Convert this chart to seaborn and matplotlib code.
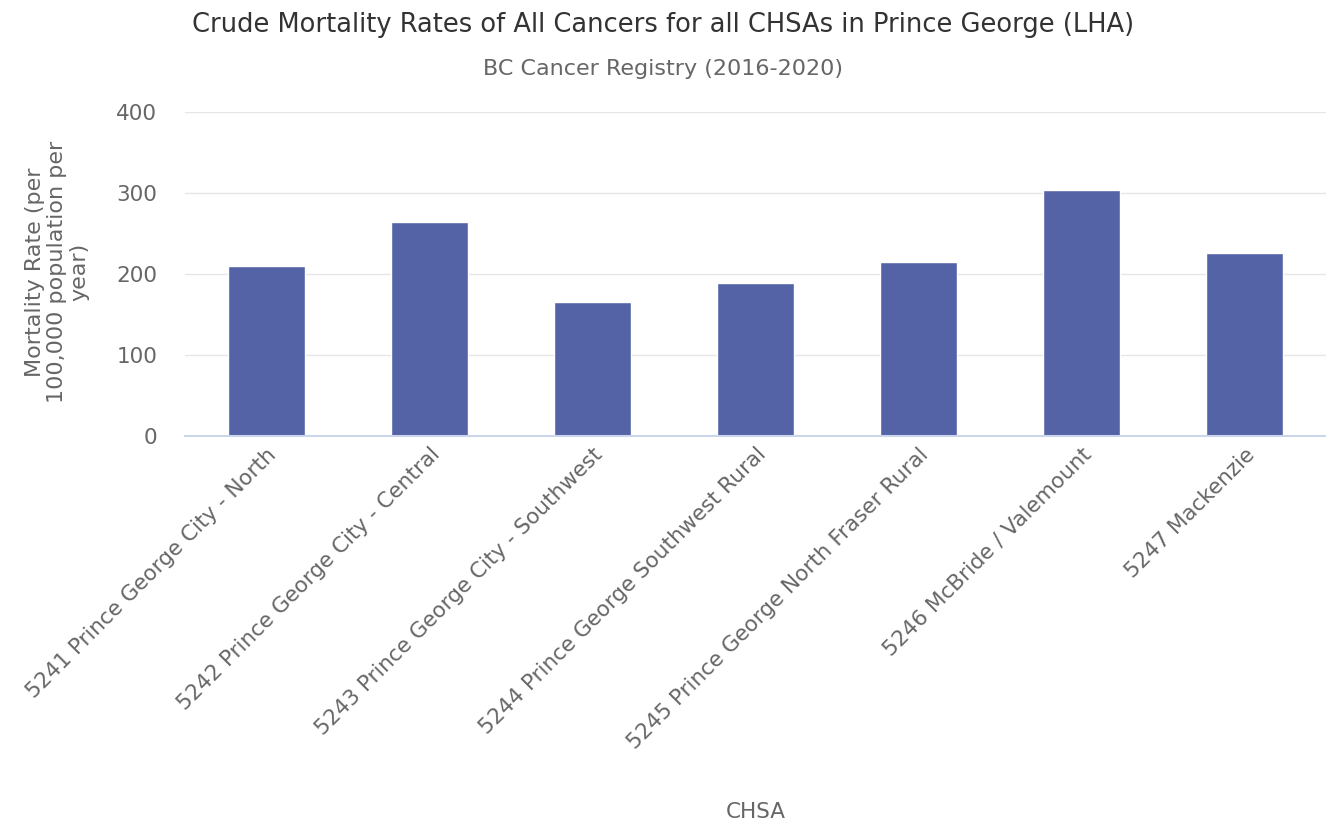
import matplotlib
matplotlib.use("Agg")
import matplotlib.pyplot as plt
import seaborn as sns
import pandas as pd

chsa = [
    "5241 Prince George City - North",
    "5242 Prince George City - Central",
    "5243 Prince George City - Southwest",
    "5244 Prince George Southwest Rural",
    "5245 Prince George North Fraser Rural",
    "5246 McBride / Valemount",
    "5247 Mackenzie",
]
rate = [210, 264, 166, 189, 215, 304, 226]
yticks = [0, 100, 200, 300, 400]

df = pd.DataFrame({"CHSA": chsa, "rate": rate})

sns.set_theme(style="white")
plt.rcParams["font.family"] = ["DejaVu Sans"]

fig = plt.figure(figsize=(13.26, 8.25), dpi=100)
ax = fig.add_axes([185 / 1326, 1 - 436 / 825, 1 - 185 / 1326, (436 - 112) / 825])

sns.barplot(data=df, x="CHSA", y="rate", color="#5463a6", width=0.47,
            saturation=1, edgecolor="white", linewidth=1, ax=ax, zorder=3)

ax.set_ylim(0, 400)
ax.set_yticks(yticks)
ax.set_xlim(-0.5, len(chsa) - 0.5)
ax.grid(axis="y", color="#e6e6e6", linewidth=1, zorder=0)
for s in ["top", "right", "left"]:
    ax.spines[s].set_visible(False)
ax.spines["bottom"].set_color("#ccd6eb")
ax.spines["bottom"].set_linewidth(1.5)
ax.spines["bottom"].set_zorder(4)

ax.tick_params(axis="y", length=0, labelsize=15.5, labelcolor="#666666", pad=20)
ax.tick_params(axis="x", length=0, labelsize=15.5, labelcolor="#666666", pad=6)
plt.setp(ax.get_xticklabels(), rotation=45, ha="right", rotation_mode="anchor")

ax.set_xlabel("CHSA", fontsize=15.5, color="#666666", va="center")
ax.xaxis.set_label_coords(0.5, -(812 - 436) / (436 - 112))
ax.set_ylabel("Mortality Rate (per\n100,000 population per\nyear)", fontsize=16,
              color="#666666", linespacing=1.15, ha="center", va="center")
ax.yaxis.set_label_coords(-(185 - 57) / 1141, (436 - 272) / (436 - 112))

fig.text(0.5, 1 - 25 / 825, "Crude Mortality Rates of All Cancers for all CHSAs in Prince George (LHA)",
         ha="center", va="center", fontsize=18.5, color="#333333")
fig.text(0.5, 1 - 69 / 825, "BC Cancer Registry (2016-2020)",
         ha="center", va="center", fontsize=16, color="#666666")

fig.savefig("out.png", dpi=100)
